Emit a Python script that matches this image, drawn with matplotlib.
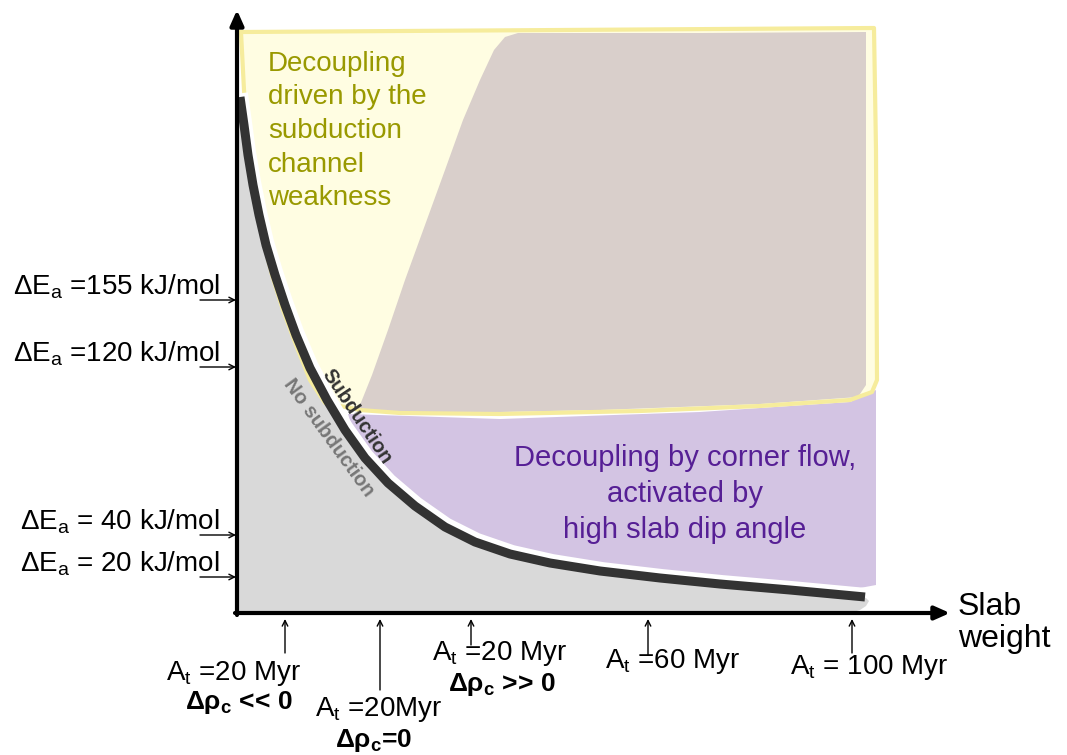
import numpy as np
import matplotlib
matplotlib.use("Agg")
import matplotlib.pyplot as plt
from matplotlib.transforms import offset_copy

plt.rcParams['font.family'] = ['Liberation Sans', 'DejaVu Sans']
plt.rcParams['mathtext.fontset'] = 'custom'
plt.rcParams['mathtext.rm'] = 'Liberation Sans'
plt.rcParams['mathtext.bf'] = 'Liberation Sans:bold'

# diagram coordinates (x: slab weight, y: down = weaker)
curve_x = [240, 244, 248, 253, 259, 266, 275, 285, 296, 310, 327, 345, 365, 388, 415, 445, 475, 510, 550, 600, 660, 720, 790, 865]
curve_y = [97, 125, 155, 185, 215, 245, 275, 305, 335, 368, 400, 430, 458, 483, 506, 527, 542, 554, 563, 571, 578, 584, 590, 597]

yellow_x = [241, 560, 874, 876, 877, 872, 850, 760, 640, 500, 400, 360, 325, 310, 296, 283, 272, 262, 254, 248, 244, 241]
yellow_y = [32, 30, 28, 150, 380, 392, 400, 406, 411, 414, 413, 410, 403, 380, 345, 310, 275, 235, 190, 140, 90, 32]

brown_x = [358, 372, 388, 405, 425, 445, 463, 480, 494, 505, 518, 700, 866, 866, 858, 760, 600, 450, 358]
brown_y = [410, 375, 330, 280, 225, 170, 120, 80, 50, 37, 33, 33, 32, 385, 397, 404, 410, 413, 410]

purple_x = [348, 500, 700, 850, 876, 876, 860, 800, 720, 640, 560, 500, 460, 425, 395, 370, 355, 348]
purple_y = [414, 419, 412, 402, 390, 585, 588, 583, 577, 570, 560, 548, 533, 512, 490, 462, 438, 414]

gray_x = curve_x + [869, 866, 860, 850, 237, 237]
gray_y = curve_y + [601, 606, 610, 613, 613, 97]

energy_labels = ['ΔE$_\\mathregular{a}$ =155 kJ/mol', 'ΔE$_\\mathregular{a}$ =120 kJ/mol',
                 'ΔE$_\\mathregular{a}$ = 40 kJ/mol', 'ΔE$_\\mathregular{a}$ = 20 kJ/mol']
energy_y = [300, 367, 535, 577]

age_labels = ['A$_\\mathregular{t}$ =20 Myr', 'A$_\\mathregular{t}$ =20Myr', 'A$_\\mathregular{t}$ =20 Myr',
              'A$_\\mathregular{t}$ =60 Myr', 'A$_\\mathregular{t}$ = 100 Myr']
age_x = [285, 380, 471, 648, 852]
age_label_x = [234, 379, 500, 673, 869]
age_label_y = [673, 710, 654, 662, 667]
age_arrow_start = [653, 690, 645, 655, 653]
density_labels = ['Δρ$_\\mathbf{c}$ << 0', 'Δρ$_\\mathbf{c}$=0', 'Δρ$_\\mathbf{c}$ >> 0', '', '']
density_label_x = [239, 374, 502, 0, 0]
density_label_y = [702, 740, 684, 0, 0]

fig = plt.figure(figsize=(10.67, 7.55), dpi=100)
ax = fig.add_axes([0, 0, 1, 1])
ax.set_xlim(0, 1067)
ax.set_ylim(755, 0)
ax.axis('off')

# regions
ax.fill(gray_x, gray_y, color='#d9d9d9', lw=0, zorder=1)
ax.fill(yellow_x, yellow_y, color='#fffde2', lw=0, zorder=1)
ax.fill(brown_x, brown_y, color='#d9cfcb', lw=0, zorder=2)
ax.fill(purple_x, purple_y, color='#d3c4e3', lw=0, zorder=2)
ax.plot(yellow_x, yellow_y, color='#f6ec9c', lw=3, zorder=3, solid_joinstyle='round')

# boundary curve
white_tr = offset_copy(ax.transData, fig=fig, x=3, y=4, units='dots')
ax.plot(curve_x, curve_y, color='white', lw=7, transform=white_tr, zorder=4, solid_capstyle='butt')
ax.plot(curve_x, curve_y, color='#333333', lw=6.5, zorder=5, solid_capstyle='butt')

# axes arrows
ax.annotate('', xy=(237, 10), xytext=(237, 615),
            arrowprops=dict(arrowstyle='-|>,head_length=0.9,head_width=0.4', lw=3, color='black',
                            shrinkA=0, shrinkB=0), zorder=6)
ax.annotate('', xy=(950, 613), xytext=(235, 613),
            arrowprops=dict(arrowstyle='-|>,head_length=0.9,head_width=0.4', lw=3, color='black',
                            shrinkA=0, shrinkB=0), zorder=6)

# activation energy labels
for lab, y in zip(energy_labels, energy_y):
    ax.text(220, y - 13, lab, fontsize=20, ha='right', va='center')
    ax.annotate('', xy=(236, y), xytext=(200, y),
                arrowprops=dict(arrowstyle='->', lw=1, color='black', shrinkA=0, shrinkB=0))

# plate age labels
for i in range(len(age_labels)):
    ax.annotate('', xy=(age_x[i], 619), xytext=(age_x[i], age_arrow_start[i]),
                arrowprops=dict(arrowstyle='->', lw=1, color='black', shrinkA=0, shrinkB=0))
    ax.text(age_label_x[i], age_label_y[i], age_labels[i], fontsize=20, ha='center', va='center')
    if density_labels[i]:
        ax.text(density_label_x[i], density_label_y[i], density_labels[i], fontsize=19,
                ha='center', va='center', fontweight='bold')

ax.text(958, 623, 'Slab\nweight', fontsize=23, ha='left', va='center', linespacing=1.05)

# region texts
ax.text(268, 131, 'Decoupling\ndriven by the\nsubduction\nchannel\nweakness', fontsize=20,
        color='#999900', ha='left', va='center', linespacing=1.38, zorder=7)
ax.text(685, 494, 'Decoupling by corner flow,\nactivated by\nhigh slab dip angle', fontsize=21,
        color='#561f95', ha='center', va='center', linespacing=1.35, zorder=7)
ax.text(357, 417, 'Subduction', fontsize=14.5, fontweight='bold', color='#333333',
        rotation=-56, ha='center', va='center', rotation_mode='anchor', zorder=7)
ax.text(329, 438, 'No subduction', fontsize=14.5, fontweight='bold', color='#777777',
        rotation=-54, ha='center', va='center', rotation_mode='anchor', zorder=7)

fig.savefig('out.png', dpi=100)
